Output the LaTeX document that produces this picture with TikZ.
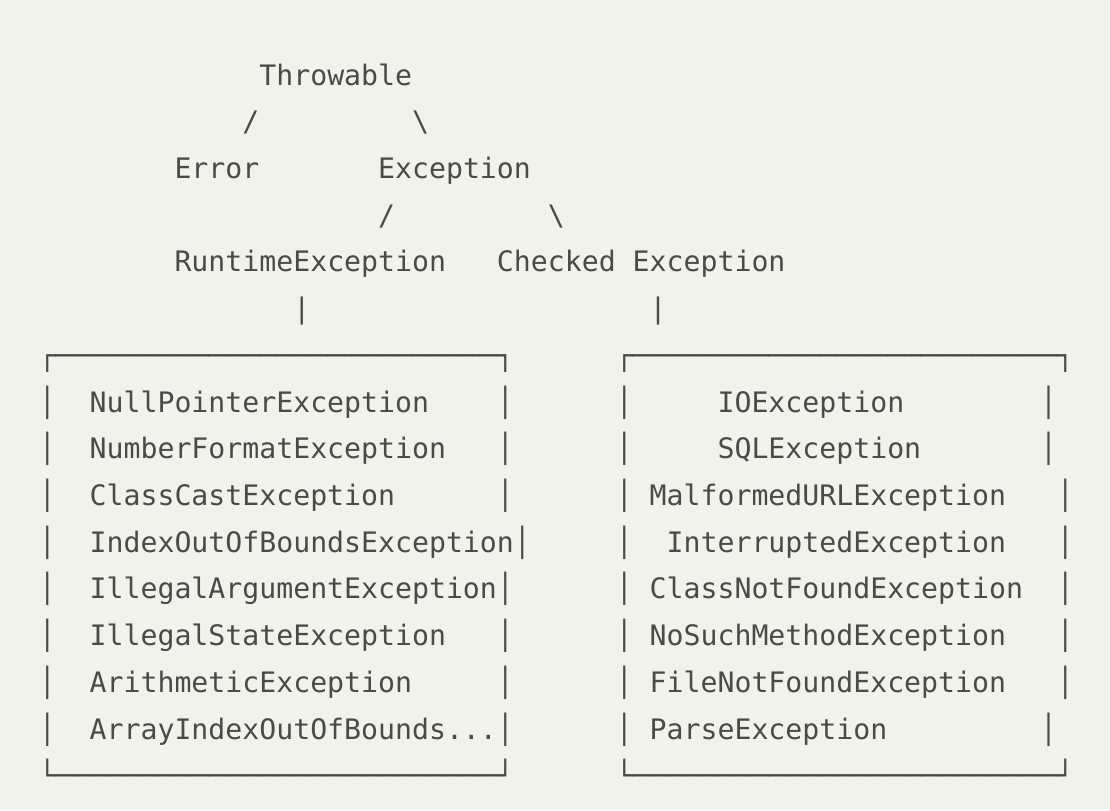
\documentclass[tikz,border=0pt]{standalone}
\usepackage{fontspec}
\usepackage{xcolor}
\newfontfamily\asciifont{DejaVu Sans Mono}
\definecolor{paper}{HTML}{F2F2ED}
\definecolor{ink}{HTML}{4A4A47}
\tikzset{ascii/.style={font=\asciifont\fontsize{21.14pt}{25pt}\selectfont,
                       text=ink, inner sep=0pt, anchor=base west}}

\begin{document}
\begin{tikzpicture}[x=12.727pt,y=-35.04pt]
\fill[paper] (-2.2687,-1.8194) rectangle (63.14,15.518);
% the tree
\begin{scope}[every node/.style={ascii}]
    \node (throwable) at (13,0) {Throwable};
    \node (sl-error) at (12,1) {/};
    \node (bs-exc) at (22,1) {\textbackslash};
    \node (error) at (8,2) {Error};
    \node (exception) at (20,2) {Exception};
    \node (sl-rt) at (20,3) {/};
    \node (bs-chk) at (30,3) {\textbackslash};
    \node (runtime) at (8,4) {RuntimeException};
    \node (checked) at (27,4) {Checked Exception};
    \node (pipe-rt) at (15,5) {\textbar};
    \node (pipe-chk) at (36,5) {\textbar};
\end{scope}
% the two boxes
\begin{scope}[every node/.style={ascii}]
    \node (tl-rt) at (0,6) {┌};
    \foreach \c in {1,...,26} \node (top-rt-\c) at (\c,6) {─};
    \node (tr-rt) at (27,6) {┐};
    \node (bl-rt) at (0,15) {└};
    \foreach \c in {1,...,26} \node (bot-rt-\c) at (\c,15) {─};
    \node (br-rt) at (27,15) {┘};
    \node (tl-chk) at (34,6) {┌};
    \foreach \c in {35,...,59} \node (top-chk-\c) at (\c,6) {─};
    \node (tr-chk) at (60,6) {┐};
    \node (bl-chk) at (34,15) {└};
    \foreach \c in {35,...,59} \node (bot-chk-\c) at (\c,15) {─};
    \node (br-chk) at (60,15) {┘};
    \foreach \r/\a/\b in {7/27/59,8/27/59,9/27/60,10/28/60,
                          11/27/60,12/27/60,13/27/60,14/27/59} {
        \node (lbar-rt-\r) at (0,\r) {│};
        \node (rbar-rt-\r) at (\a,\r) {│};
        \node (lbar-chk-\r) at (34,\r) {│};
        \node (rbar-chk-\r) at (\b,\r) {│};
    }
    % unchecked ones
    \node (npe) at (3,7) {NullPointerException};
    \node (nfe) at (3,8) {NumberFormatException};
    \node (cce) at (3,9) {ClassCastException};
    \node (ioobe) at (3,10) {IndexOutOfBoundsException};
    \node (iae) at (3,11) {IllegalArgumentException};
    \node (ise) at (3,12) {IllegalStateException};
    \node (ae) at (3,13) {ArithmeticException};
    \node (aioobe) at (3,14) {ArrayIndexOutOfBounds...};
    % checked ones
    \node (ioe) at (40,7) {IOException};
    \node (sqle) at (40,8) {SQLException};
    \node (murle) at (36,9) {MalformedURLException};
    \node (ie) at (37,10) {InterruptedException};
    \node (cnfe) at (36,11) {ClassNotFoundException};
    \node (nsme) at (36,12) {NoSuchMethodException};
    \node (fnfe) at (36,13) {FileNotFoundException};
    \node (pe) at (36,14) {ParseException};
\end{scope}
\end{tikzpicture}
\end{document}
